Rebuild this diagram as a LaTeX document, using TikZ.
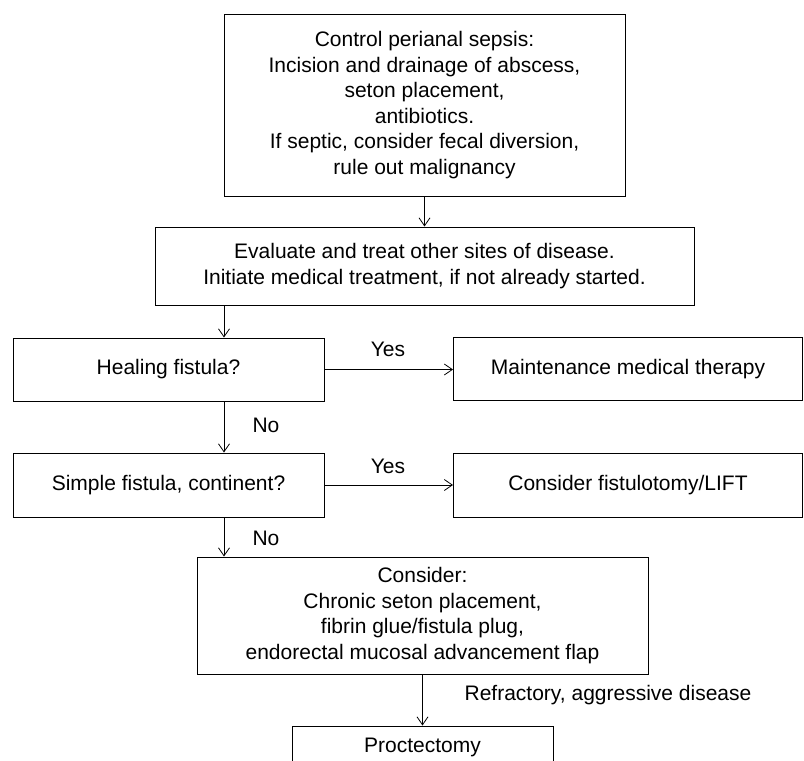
\documentclass[tikz,border=0pt]{standalone}
\usepackage{fontspec}
\setmainfont{Liberation Sans}
\usetikzlibrary{arrows.meta}
\begin{document}
\begin{tikzpicture}[x=1pt,y=-1pt,
  box/.style={draw=black, line width=1pt, inner sep=0pt, align=center, font=\fontsize{21}{25.5}\selectfont},
  lbl/.style={inner sep=0pt, font=\fontsize{21}{25.5}\selectfont},
  arr/.style={line width=0.8pt, -{Straight Barb[length=8pt,width=11pt]}}]
\useasboundingbox (0,0) rectangle (804,761);
\clip (0,0) rectangle (804,761);
\node[box, minimum width=401pt, minimum height=182pt] (b1) at (424.5,105) {Control perianal sepsis:\\Incision and drainage of abscess,\\seton placement,\\antibiotics.\\If septic, consider fecal diversion,\\rule out malignancy};
\node[box, minimum width=539pt, minimum height=78pt] (b2) at (424.5,266) {Evaluate and treat other sites of disease.\\Initiate medical treatment, if not already started.};
\node[box, minimum width=311pt, minimum height=63pt] (b3) at (168.5,369.5) {Healing fistula?};
\node[box, minimum width=349pt, minimum height=63pt] (b4) at (628,369) {Maintenance medical therapy};
\node[box, minimum width=311pt, minimum height=64pt] (b5) at (168.5,485) {Simple fistula, continent?};
\node[box, minimum width=349pt, minimum height=64pt] (b6) at (628,485) {Consider fistulotomy/LIFT};
\node[box, minimum width=451pt, minimum height=117pt] (b7) at (422.5,615.5) {Consider:\\Chronic seton placement,\\fibrin glue/fistula plug,\\endorectal mucosal advancement flap};
\node[box, minimum width=261pt, minimum height=42pt] (b8) at (422.5,747) {Proctectomy};
\coordinate (ax) at (224,0);
\draw[arr] (b1.south) -- (b2.north);
\draw[arr] (b2.south -| ax) -- (b3.north -| ax);
\draw[arr] (b3.south -| ax) -- (b5.north -| ax);
\draw[arr] (b5.south -| ax) -- (b7.north -| ax);
\draw[arr] (b7.south) -- (b8.north);
\draw[arr] (b3.east) -- (b4.west |- b3.east);
\draw[arr] (b5.east) -- (b6.west |- b5.east);
\node[lbl] (y1) at (388,349) {Yes};
\node[lbl] (y2) at (388,466) {Yes};
\node[lbl] (n1) at (266,425) {No};
\node[lbl] (n2) at (266,538) {No};
\node[lbl] (rf) at (608,695) {Refractory, aggressive disease};
\end{tikzpicture}
\end{document}
